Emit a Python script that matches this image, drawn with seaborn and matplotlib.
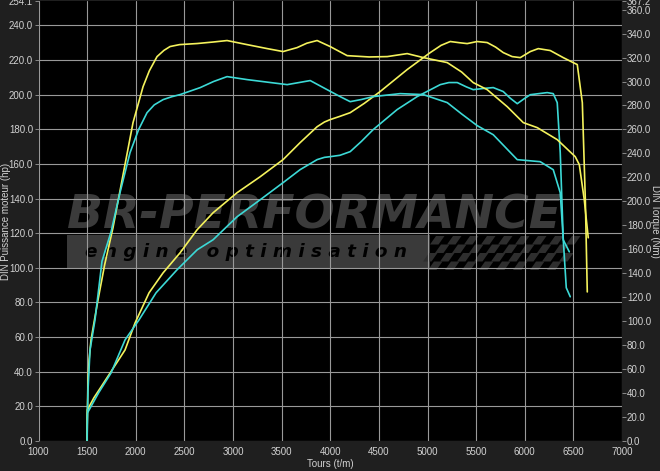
import numpy as np
import pandas as pd
import matplotlib
matplotlib.use("Agg")
import matplotlib.pyplot as plt
import seaborn as sns
from matplotlib.patches import Rectangle, Polygon

# ===================== Data =====================
# power, tuned (yellow) - hp on left axis
pw_tuned_rpm = [1500, 1502, 1570, 1643, 1777, 1890, 1993, 2137, 2281, 2456, 2631, 2795, 3042, 3279,
                3515, 3690, 3865, 3940, 3999, 4100, 4205, 4350, 4513, 4791, 5028, 5140, 5234, 5330,
                5408, 5511, 5614, 5700, 5779, 5870, 5954, 6057, 6139, 6262, 6396, 6499, 6540,
                6592, 6623, 6643]
pw_tuned_hp = [0.0, 17.9, 25.0, 31.2, 42.8, 52.6, 68.2, 85.6, 97.1, 108.7, 122.0, 131.8, 143.4, 152.6,
               162.5, 172.3, 181.5, 184.2, 185.6, 187.5, 189.6, 195.0, 201.8, 214.5, 224.3, 228.5,
               230.7, 230.0, 229.5, 230.7, 230.1, 227.5, 224.3, 222.0, 221.4, 224.9, 226.6, 225.5,
               221.4, 218.5, 217.4, 195.4, 139.3, 86.1]

# power, stock (cyan)
pw_stock_rpm = [1500, 1503, 1620, 1746, 1890, 2034, 2209, 2425, 2631, 2795, 3042, 3279, 3515, 3690,
                3865, 3940, 3999, 4100, 4205, 4320, 4441, 4688, 4894, 5131, 5220, 5306, 5400, 5470,
                5576, 5676, 5779, 5850, 5923, 5990, 6057, 6231, 6293, 6334, 6365, 6396, 6427, 6468]
pw_stock_hp = [0.0, 16.2, 28.0, 39.3, 58.4, 70.0, 85.6, 98.9, 110.4, 116.2, 129.5, 139.3, 149.2, 156.7,
               162.5, 163.8, 164.2, 165.0, 167.1, 173.0, 179.8, 191.4, 198.9, 205.8, 207.0, 207.0,
               204.5, 202.9, 203.6, 204.1, 201.8, 198.0, 194.8, 197.5, 200.0, 201.2, 200.6, 195.4,
               166.5, 116.2, 88.5, 83.3]

# torque, tuned (yellow) - Nm on right axis
tq_tuned_rpm = [1500, 1501, 1509, 1520, 1540, 1581, 1612, 1680, 1766, 1869, 1972, 2075, 2140, 2219,
                2290, 2353, 2450, 2631, 2800, 2939, 3145, 3350, 3515, 3659, 3760, 3865, 3999, 4174,
                4400, 4586, 4791, 4956, 5203, 5350, 5470, 5614, 5820, 5985, 6129, 6334, 6519, 6561,
                6612, 6653]
tq_tuned_nm = [0.0, 17.5, 50.9, 67.7, 84.4, 103.6, 117.8, 147.0, 178.0, 222.0, 265.7, 295.7, 309.0,
               320.8, 326.0, 329.2, 330.8, 331.7, 333.0, 334.2, 330.8, 327.5, 325.0, 328.3, 332.0,
               334.2, 329.2, 321.6, 320.5, 320.8, 323.3, 320.0, 315.8, 308.0, 299.1, 293.2, 279.0,
               265.7, 261.5, 251.5, 237.3, 230.6, 201.3, 169.6]

# torque, stock (cyan)
tq_stock_rpm = [1500, 1501, 1509, 1530, 1581, 1653, 1746, 1838, 1941, 2030, 2116, 2190, 2281, 2370,
                2456, 2662, 2800, 2939, 3145, 3557, 3794, 3968, 4102, 4205, 4320, 4441, 4719, 4956,
                5203, 5350, 5511, 5676, 5923, 6159, 6293, 6365, 6396, 6427, 6458]
tq_stock_nm = [0.0, 13.4, 42.6, 76.0, 101.1, 150.0, 174.6, 207.2, 240.6, 260.0, 274.0, 280.5, 284.9,
               287.3, 289.1, 294.9, 300.0, 304.1, 301.6, 297.4, 300.8, 293.2, 287.4, 283.2, 285.0,
               287.4, 289.9, 289.1, 282.4, 273.0, 263.2, 255.6, 234.8, 233.1, 226.4, 207.2, 167.9,
               162.9, 157.9]

hp_ticks = [0, 20, 40, 60, 80, 100, 120, 140, 160, 180, 200, 220, 240, 254.1]
nm_ticks = [0, 20, 40, 60, 80, 100, 120, 140, 160, 180, 200, 220, 240, 260, 280, 300, 320, 340, 360, 367.2]
rpm_ticks = [1000, 1500, 2000, 2500, 3000, 3500, 4000, 4500, 5000, 5500, 6000, 6500, 7000]

# ===================== Style =====================
sns.set_style("dark")
plt.rcParams['font.family'] = ['Liberation Sans', 'DejaVu Sans']

YELLOW = "#f4f25c"
CYAN = "#3cd9d6"
FIG_BG = "#1f1f1f"
TXT = "#d2d2d2"
GRID = "#999999"

fig = plt.figure(figsize=(6.6, 4.71), dpi=100, facecolor=FIG_BG)
ax = fig.add_axes([38.5 / 660, 30 / 471, 583.5 / 660, 440 / 471])
ax.set_facecolor("black")
ax2 = ax.twinx()

ax.set_xlim(1000, 7000)
ax.set_ylim(0, 254.1)
ax2.set_ylim(0, 367.2)

ax.set_xticks(rpm_ticks)
ax.set_xticklabels([str(t) for t in rpm_ticks])
ax.set_yticks(hp_ticks)
ax.set_yticklabels([f"{t:.1f}" for t in hp_ticks])
ax2.set_yticks(nm_ticks)
ax2.set_yticklabels([f"{t:.1f}" for t in nm_ticks])

ax.set_axisbelow('line')
ax.grid(True, color=GRID, linewidth=0.8)
# no grid line for the top partial tick
ax.yaxis.get_gridlines()[-1].set_visible(False)
ax2.grid(False)

for a in (ax, ax2):
    a.tick_params(colors=TXT, labelsize=7, length=3, width=0.6, direction="out", pad=1)
    for s in a.spines.values():
        s.set_visible(False)
ax.tick_params(axis="both", color="#9a9a9a")
ax2.tick_params(axis="y", color="#9a9a9a", pad=0.5)

# ===================== Watermark =====================
def fx(px):
    return (px - 38.5) / 583.5

def fy(py):
    return (441 - py) / 440

ax.add_patch(Rectangle((fx(67), fy(268)), fx(430) - fx(67), fy(235) - fy(268),
                       transform=ax.transAxes, color="#3a3a3a", zorder=1, lw=0))
# checkered flag, skewed squares
sq = 8.5
for r in range(4):
    for c in range(17):
        if (r + c) % 2:
            continue
        x0 = 430 + c * sq - r * 3.5
        y0 = 236 + r * sq
        pts = [(fx(x0 + 6), fy(y0)), (fx(x0 + 6 + sq), fy(y0)),
               (fx(x0 + sq), fy(y0 + sq)), (fx(x0), fy(y0 + sq))]
        ax.add_patch(Polygon(pts, closed=True, transform=ax.transAxes,
                             color="#2e2e2e", lw=0, zorder=1))

logo = ax.text(fx(67), fy(216), "BR-PERFORMANCE", transform=ax.transAxes,
               fontsize=30, fontweight="bold", fontstyle="italic", color="#3b3b3b",
               ha="left", va="center", zorder=1, family="DejaVu Sans")
sub = ax.text(fx(85), fy(252), "e n g i n e   o p t i m i s a t i o n", transform=ax.transAxes,
              fontsize=13.5, fontweight="bold", fontstyle="italic", color="black",
              ha="left", va="center", zorder=1.2, family="DejaVu Sans")

# stretch the logo to the reference width
fig.canvas.draw()
r = fig.canvas.get_renderer()
w = logo.get_window_extent(r).width
logo.set_fontsize(30 * (560 - 67) / w)
w = sub.get_window_extent(r).width
sub.set_fontsize(13.5 * (406 - 85) / w)

# ===================== Curves =====================
curves = [
    (ax, pw_tuned_rpm, pw_tuned_hp, YELLOW),
    (ax, pw_stock_rpm, pw_stock_hp, CYAN),
    (ax2, tq_tuned_rpm, tq_tuned_nm, YELLOW),
    (ax2, tq_stock_rpm, tq_stock_nm, CYAN),
]
for a, x, y, col in curves:
    df = pd.DataFrame({"rpm": x, "val": y})
    sns.lineplot(data=df, x="rpm", y="val", ax=a, color=col, linewidth=1.2,
                 sort=False, estimator=None, zorder=3, solid_joinstyle="round")

# labels, placed like the dyno printout
ax.set_xlabel("Tours (t/m)", color=TXT, fontsize=7)
ax.xaxis.set_label_coords(0.5, -0.042)
ax.set_ylabel("DIN Puissance moteur (hp)", color=TXT, fontsize=7, va="center")
ax.yaxis.set_label_coords(fx(6), 0.5)
ax2.set_ylabel("DIN Torque (Nm)", color=TXT, fontsize=7, rotation=270, va="center")
ax2.yaxis.set_label_coords(fx(655.5), 0.5)

fig.savefig("out.png", dpi=100, facecolor=FIG_BG)
